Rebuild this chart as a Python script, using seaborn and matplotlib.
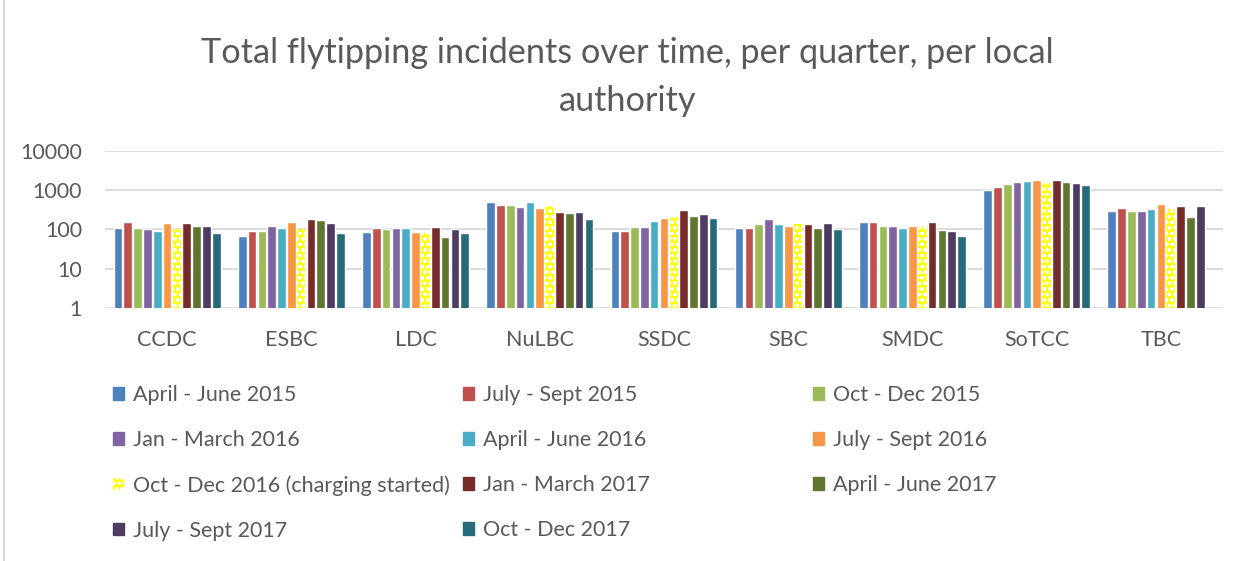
import numpy as np
import pandas as pd
import matplotlib.pyplot as plt
import seaborn as sns
from matplotlib.patches import Patch
from matplotlib.lines import Line2D

# --- Données ---
authorities = ['CCDC', 'ESBC', 'LDC', 'NuLBC', 'SSDC', 'SBC', 'SMDC', 'SoTCC', 'TBC']

quarters = ['April - June 2015', 'July - Sept 2015', 'Oct - Dec 2015',
            'Jan - March 2016', 'April - June 2016', 'July - Sept 2016',
            'Oct - Dec 2016 (charging started)', 'Jan - March 2017',
            'April - June 2017', 'July - Sept 2017', 'Oct - Dec 2017']

apr_jun_2015 = [106, 70, 86, 495, 92, 106, 154, 1000, 292]
jul_sep_2015 = [151, 89, 108, 415, 92, 108, 154, 1216, 362]
oct_dec_2015 = [108, 92, 102, 415, 115, 134, 126, 1449, 292]
jan_mar_2016 = [102, 126, 106, 370, 119, 190, 126, 1597, 292]
apr_jun_2016 = [94, 112, 106, 495, 163, 139, 106, 1726, 342]
jul_sep_2016 = [145, 154, 86, 362, 194, 122, 122, 1866, 458]
oct_dec_2016 = [100, 100, 81, 392, 214, 134, 126, 1567, 342]
jan_mar_2017 = [142, 190, 119, 287, 322, 139, 154, 1795, 408]
apr_jun_2017 = [122, 173, 64, 260, 227, 108, 98, 1660, 206]
jul_sep_2017 = [122, 142, 100, 287, 241, 148, 89, 1567, 392]
oct_dec_2017 = [81, 79, 79, 190, 194, 104, 70, 1340, np.nan]

series = [apr_jun_2015, jul_sep_2015, oct_dec_2015, jan_mar_2016, apr_jun_2016,
          jul_sep_2016, oct_dec_2016, jan_mar_2017, apr_jun_2017, jul_sep_2017,
          oct_dec_2017]

colors = ['#4F81BD', '#C0504D', '#9BBB59', '#8064A2', '#4BACC6', '#F79646',
          '#FFFF00', '#772C2A', '#5F7530', '#4D3B62', '#276A7C']

rows = []
for q, vals in zip(quarters, series):
    for a, v in zip(authorities, vals):
        rows.append({'Autorite': a, 'Trimestre': q, 'Incidents': v})
df = pd.DataFrame(rows)

# --- Style ---
sns.set_style('white')
plt.rcParams['font.family'] = ['Lato', 'DejaVu Sans']
gris = '#595959'

fig = plt.figure(figsize=(12.5, 5.61), dpi=100)
ax = fig.add_axes([0.084, 0.451, 0.8944, 0.2799])
ax.set_yscale('log')

sns.barplot(data=df, x='Autorite', y='Incidents', hue='Trimestre',
            order=authorities, hue_order=quarters, palette=colors,
            width=0.87, gap=0.12, legend=False, ax=ax, saturation=1)

# motif sur la série "charging started"
for bar in ax.containers[6]:
    bar.set_hatch('ooo')
    bar.set_edgecolor('white')
    bar.set_linewidth(0)

ax.set_ylim(1, 10000)
ax.set_yticks([1, 10, 100, 1000, 10000])
ax.set_yticklabels(['1', '10', '100', '1000', '10000'])
ax.minorticks_off()
ax.yaxis.grid(True, color='#D9D9D9', linewidth=1.3)
ax.set_axisbelow(True)
for s in ax.spines.values():
    s.set_visible(False)
ax.tick_params(axis='y', length=0, pad=16.5, labelsize=15.5, labelcolor=gris)
ax.tick_params(axis='x', length=0, pad=16, labelsize=15.5, labelcolor=gris)
ax.set_xlabel('')
ax.set_ylabel('')

fig.suptitle('Total flytipping incidents over time, per quarter, per local\nauthority',
             x=0.502, y=0.934, fontsize=24.7, color=gris, linespacing=1.62)

# --- Légende : trois colonnes de largeur égale ---
handles = []
for q, c in zip(quarters, colors):
    if c == '#FFFF00':
        handles.append(Patch(facecolor=c, edgecolor='white', hatch='ooo', linewidth=0, label=q))
    else:
        handles.append(Patch(facecolor=c, edgecolor=c, label=q))

colonnes = [[0, 3, 6, 9], [1, 4, 7, 10], [2, 5, 8]]
x_cols = [0.0749, 0.3549, 0.6349]
for idx, xc in zip(colonnes, x_cols):
    leg = fig.legend([handles[i] for i in idx], [quarters[i] for i in idx],
                     loc='upper left', bbox_to_anchor=(xc, 0.348),
                     frameon=False, fontsize=15.5, labelcolor=gris,
                     handlelength=0.5, handleheight=0.5, handletextpad=0.44,
                     labelspacing=1.16, borderpad=0.4, borderaxespad=0.5)

# bordure gauche du graphique
fig.add_artist(Line2D([0.0035, 0.0035], [0, 1], color='#D9D9D9', linewidth=1.5,
                      transform=fig.transFigure))

plt.savefig('out.png', dpi=100)
